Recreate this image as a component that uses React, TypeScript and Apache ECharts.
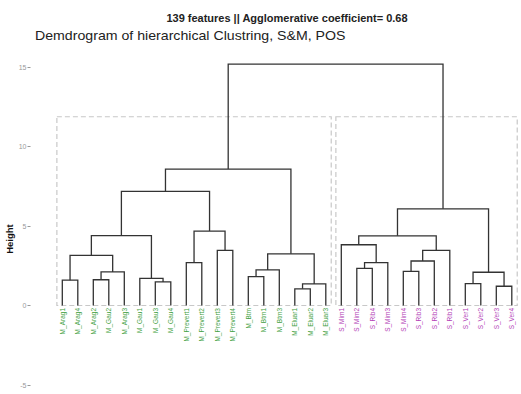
import React, { useEffect, useRef } from "react";
import * as echarts from "echarts";

// Leaves in dendrogram order
const leafLabels = [
  "M_Arag1", "M_Arag4", "M_Arag2", "M_Gau2", "M_Arag3", "M_Gau1", "M_Gau3", "M_Gau4",
  "M_Prevert1", "M_Prevert2", "M_Prevert3", "M_Prevert4", "M_Btm", "M_Btm1", "M_Btm3",
  "M_Eluar1", "M_Eluar2", "M_Eluar3",
  "S_Mim1", "S_Mim2", "S_Rib4", "S_Mim3", "S_Mim4", "S_Rib3", "S_Rib2", "S_Rib1",
  "S_Ver1", "S_Ver2", "S_Ver3", "S_Ver4",
];

// hclust-style merge table: negative = leaf (1-based), positive = earlier merge (1-based)
const mergeLeft = [-1, -3, 2, 1, -7, -6, 4, -9, -11, 8, 7, -13, 12, -16, 14, 13, 11, -20, 18, -19, -23, 21, 22, 20, -27, -29, 25, 24, 17];
const mergeRight = [-2, -4, -5, 3, -8, 5, 6, -10, -12, 9, 10, -14, -15, -17, -18, 15, 16, -21, -22, 19, -24, -25, -26, 23, -28, -30, 26, 27, 28];
const mergeHeight = [1.59, 1.62, 2.11, 3.15, 1.48, 1.71, 4.39, 2.7, 3.47, 4.68, 7.18, 1.82, 2.24, 1.05, 1.36, 3.25, 8.58, 2.34, 2.7, 3.82, 2.15, 2.8, 3.47, 4.38, 1.38, 1.21, 2.09, 6.08, 15.18];

// Cluster rectangles (k = 2)
const rectLeafStart = [0, 18];
const rectLeafEnd = [17, 29];
const rectTop = [11.87, 11.87];

const yMin = -5;
const yMax = 15;
const yInterval = 5;

const titleText = "139 features || Agglomerative coefficient= 0.68";
const subtitleText = "Demdrogram of hierarchical Clustring, S&M, POS";
const yName = "Height";

const colorM = "#3f9f3f";
const colorS = "#b23cb6";

function nodePos(n: number): number {
  if (n < 0) return -n - 1;
  return (nodePos(mergeLeft[n - 1]) + nodePos(mergeRight[n - 1])) / 2;
}
function nodeHeight(n: number): number {
  return n < 0 ? 0 : mergeHeight[n - 1];
}

export default function App() {
  const ref = useRef<HTMLDivElement>(null);
  useEffect(() => {
    if (!ref.current) return;
    const chart = echarts.init(ref.current, null, { renderer: "svg" });

    const linkData = mergeHeight.map((h, i) => [
      nodePos(mergeLeft[i]),
      nodePos(mergeRight[i]),
      nodeHeight(mergeLeft[i]),
      nodeHeight(mergeRight[i]),
      h,
    ]);
    const rectData = rectLeafStart.map((s, i) => [s - 0.35, rectLeafEnd[i] + 0.35, 0, rectTop[i]]);
    const leafData = leafLabels.map((l, i) => [i, 0, l]);

    const font = "Liberation Sans, Arial, sans-serif";
    const pxPerLeaf = 15.5;
    const firstLeafX = 62.3;
    const gridLeft = 30.5;
    const xMin = (gridLeft - firstLeafX) / pxPerLeaf;

    chart.setOption({
      animation: false,
      grid: { left: gridLeft, right: 1.45, top: 67, bottom: 9, containLabel: false },
      xAxis: {
        type: "value",
        min: xMin,
        max: 29.5,
        show: false,
      },
      yAxis: {
        type: "value",
        min: yMin,
        max: yMax,
        interval: yInterval,
        axisLine: { show: false, onZero: false },
        axisTick: { show: true, length: 3, lineStyle: { color: "#999", width: 1 } },
        axisLabel: { color: "#999", fontSize: 7, margin: 4, fontFamily: font },
        splitLine: { show: false },
      },
      graphic: [
        {
          type: "text",
          x: 287,
          y: 18,
          scaleX: 1.1,
          style: {
            text: titleText,
            font: `bold 10px ${font}`,
            fill: "#222",
            align: "center",
            verticalAlign: "middle",
          },
        },
        {
          type: "text",
          x: 35,
          y: 36,
          scaleX: 1.18,
          style: {
            text: subtitleText,
            font: `12px ${font}`,
            fill: "#222",
            align: "left",
            verticalAlign: "middle",
          },
        },
        {
          type: "text",
          x: 9,
          y: 239,
          rotation: Math.PI / 2,
          style: {
            text: yName,
            font: `bold 9.5px ${font}`,
            fill: "#111",
            align: "center",
            verticalAlign: "middle",
          },
        },
      ],
      series: [
        {
          type: "custom",
          coordinateSystem: "cartesian2d",
          encode: { x: [0, 1], y: [2, 3] },
          data: rectData,
          silent: true,
          renderItem: (params: any, api: any) => {
            const p0 = api.coord([api.value(0), api.value(3)]);
            const p1 = api.coord([api.value(1), api.value(2)]);
            return {
              type: "rect",
              shape: { x: p0[0], y: p0[1], width: p1[0] - p0[0], height: p1[1] - p0[1] },
              style: { fill: "none", stroke: "#c8c8c8", lineWidth: 1.2, lineDash: [5, 3] },
            };
          },
        },
        {
          type: "custom",
          coordinateSystem: "cartesian2d",
          encode: { x: [0, 1], y: [2, 3, 4] },
          data: linkData,
          silent: true,
          renderItem: (params: any, api: any) => {
            const xl = api.value(0);
            const xr = api.value(1);
            const hl = api.value(2);
            const hr = api.value(3);
            const h = api.value(4);
            const pts = [
              api.coord([xl, hl]),
              api.coord([xl, h]),
              api.coord([xr, h]),
              api.coord([xr, hr]),
            ];
            return {
              type: "polyline",
              shape: { points: pts },
              style: { fill: "none", stroke: "#333", lineWidth: 1.3 },
            };
          },
        },
        {
          type: "custom",
          coordinateSystem: "cartesian2d",
          encode: { x: 0, y: 1 },
          data: leafData,
          silent: true,
          renderItem: (params: any, api: any) => {
            const idx = params.dataIndex;
            const p = api.coord([api.value(0), api.value(1)]);
            const label = leafLabels[idx];
            return {
              type: "text",
              x: p[0],
              y: p[1] + 2.5,
              rotation: Math.PI / 2,
              style: {
                text: label,
                font: `6.5px ${font}`,
                fill: label.startsWith("M") ? colorM : colorS,
                align: "right",
                verticalAlign: "middle",
              },
            };
          },
        },
      ],
    });
    return () => chart.dispose();
  }, []);
  return (
    <div
      ref={ref}
      style={{ position: "fixed", left: 0, top: 0, width: 521, height: 394, background: "#fff" }}
    />
  );
}
